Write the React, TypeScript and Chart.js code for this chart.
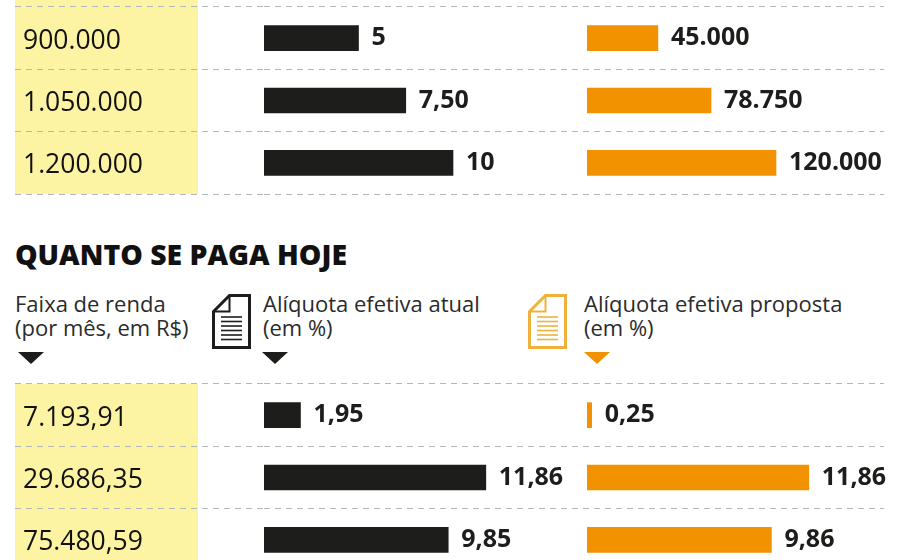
import { useEffect, useRef } from "react";
import { Chart, registerables } from "chart.js";

Chart.register(...registerables);

// faixas de renda (por mês) e alíquotas
const topRanges = ["900.000", "1.050.000", "1.200.000"];
const topCurrent = [5, 7.5, 10];
const topCurrentText = ["5", "7,50", "10"];
const topProposed = [45000, 78750, 120000];
const topProposedText = ["45.000", "78.750", "120.000"];

const bottomRanges = ["7.193,91", "29.686,35", "75.480,59"];
const bottomCurrent = [1.95, 11.86, 9.85];
const bottomCurrentText = ["1,95", "11,86", "9,85"];
const bottomProposed = [0.25, 11.86, 9.86];
const bottomProposedText = ["0,25", "11,86", "9,86"];

const INK = "#1d1d1b";
const ORANGE = "#f39200";
const ICON_ORANGE = "#f0b13c";
const YELLOW = "#fdf4a3";
const GRID = "#b3b7bb";
const FONT = "'Open Sans', sans-serif";

Chart.defaults.font.family = FONT;

const valueLabels = {
  id: "valueLabels",
  afterDatasetsDraw(chart: any, _args: any, opts: any) {
    const { ctx } = chart;
    ctx.save();
    ctx.font = `bold 25px ${FONT}`;
    ctx.fillStyle = INK;
    ctx.textBaseline = "alphabetic";
    chart.data.datasets.forEach((_ds: any, i: number) => {
      const texts: string[] = opts.texts[i];
      chart.getDatasetMeta(i).data.forEach((bar: any, j: number) => {
        ctx.fillText(texts[j], bar.x + 13, bar.y + 7);
      });
    });
    ctx.restore();
  },
};

type TableProps = {
  top: number;
  ranges: string[];
  current: number[];
  currentText: string[];
  proposed: number[];
  proposedText: string[];
  currentMax: number;
  proposedMax: number;
};

function BarTable(p: TableProps) {
  const canvasRef = useRef<HTMLCanvasElement>(null);

  useEffect(() => {
    if (!canvasRef.current) return;

    const chart = new Chart(canvasRef.current, {
      type: "bar",
      data: {
        labels: p.ranges,
        datasets: [
          {
            data: p.current,
            xAxisID: "xa",
            backgroundColor: INK,
            barThickness: 25,
            grouped: false,
          },
          {
            data: p.proposed,
            xAxisID: "xb",
            backgroundColor: ORANGE,
            barThickness: 25,
            grouped: false,
          },
        ],
      },
      options: {
        indexAxis: "y",
        responsive: true,
        maintainAspectRatio: false,
        animation: false,
        layout: {
          padding: { left: 23, right: 16, top: 7, bottom: 6 },
        },
        plugins: {
          legend: { display: false },
          tooltip: { enabled: false },
          valueLabels: { texts: [p.currentText, p.proposedText] },
        } as any,
        scales: {
          xa: {
            type: "linear",
            position: "bottom",
            stack: "cols",
            stackWeight: 323,
            min: 0,
            max: p.currentMax,
            display: false,
          },
          xb: {
            type: "linear",
            position: "bottom",
            stack: "cols",
            stackWeight: 297,
            min: 0,
            max: p.proposedMax,
            display: false,
          },
          y: {
            type: "category",
            afterFit: (scale: any) => {
              scale.width = 241;
              scale.paddingTop = 0;
              scale.paddingBottom = 0;
            },
            grid: {
              offset: true,
              color: GRID,
              lineWidth: 1,
              tickLength: 249,
              tickColor: GRID,
              tickWidth: 1,
              tickBorderDash: [6, 5],
            },
            border: { display: false, dash: [6, 5] },
            ticks: {
              crossAlign: "far",
              padding: 0,
              labelOffset: 3,
              color: "#111",
              font: { size: 26.5 },
            },
          },
        },
      },
      plugins: [valueLabels],
    });

    return () => {
      chart.destroy();
    };
  }, []);

  return (
    <div style={{ position: "absolute", left: 0, top: p.top, width: 900, height: 200 }}>
      <canvas ref={canvasRef} />
    </div>
  );
}

function DocIcon({ color }: { color: string }) {
  return (
    <svg width="39" height="55" viewBox="0 0 39 55">
      <path d="M1.5 17.5 L17.5 1.5 H37.5 V53.5 H1.5 Z" fill="#fff" stroke={color} strokeWidth="3" />
      <path d="M1.5 17.5 H17.5 V1.5" fill="none" stroke={color} strokeWidth="2" />
      {[23, 27.5, 32, 36.5, 41, 45.5].map((y) => (
        <line key={y} x1="9" x2="30" y1={y} y2={y} stroke={color} strokeWidth="1.6" />
      ))}
    </svg>
  );
}

function Arrow({ left, color }: { left: number; color: string }) {
  return (
    <svg style={{ position: "absolute", left, top: 352 }} width="26" height="13" viewBox="0 0 26 13">
      <polygon points="0,0 26,0 13,12" fill={color} />
    </svg>
  );
}

const headText: any = {
  position: "absolute",
  top: 291,
  fontSize: 22,
  lineHeight: "24px",
  color: "#2b2b2b",
  whiteSpace: "nowrap",
};

export default function App() {
  return (
    <div
      style={{
        position: "absolute",
        left: 0,
        top: 0,
        width: 900,
        height: 560,
        overflow: "hidden",
        background: "#fff",
        fontFamily: FONT,
      }}
    >
      <div style={{ position: "absolute", left: 15, top: 0, width: 183, height: 194, background: YELLOW }} />
      <div style={{ position: "absolute", left: 15, top: 384, width: 183, height: 200, background: YELLOW }} />

      <BarTable
        top={0}
        ranges={topRanges}
        current={topCurrent}
        currentText={topCurrentText}
        proposed={topProposed}
        proposedText={topProposedText}
        currentMax={17.09}
        proposedMax={188571}
      />

      <div
        style={{
          position: "absolute",
          left: 15,
          top: 238,
          fontSize: 28.4,
          lineHeight: "32px",
          fontWeight: 800,
          color: "#111",
          whiteSpace: "nowrap",
        }}
      >
        QUANTO SE PAGA HOJE
      </div>

      <div style={{ ...headText, left: 15 }}>
        Faixa de renda
        <br />
        (por mês, em R$)
      </div>
      <div style={{ position: "absolute", left: 212, top: 294 }}>
        <DocIcon color={INK} />
      </div>
      <div style={{ ...headText, left: 263 }}>
        Alíquota efetiva atual
        <br />
        (em %)
      </div>
      <div style={{ position: "absolute", left: 528, top: 294 }}>
        <DocIcon color={ICON_ORANGE} />
      </div>
      <div style={{ ...headText, left: 584 }}>
        Alíquota efetiva proposta
        <br />
        (em %)
      </div>
      <Arrow left={18} color={INK} />
      <Arrow left={262} color={INK} />
      <Arrow left={584} color={ORANGE} />

      <BarTable
        top={377}
        ranges={bottomRanges}
        current={bottomCurrent}
        currentText={bottomCurrentText}
        proposed={bottomProposed}
        proposedText={bottomProposedText}
        currentMax={17.27}
        proposedMax={15.88}
      />
    </div>
  );
}
